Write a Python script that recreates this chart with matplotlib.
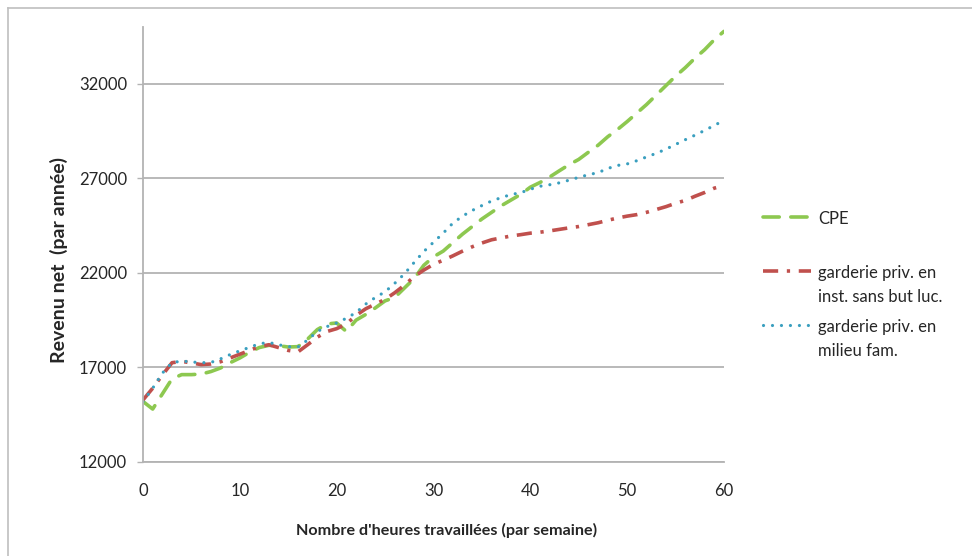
import matplotlib
matplotlib.use("Agg")
import matplotlib.pyplot as plt
from matplotlib.lines import Line2D

hours = list(range(0, 61))

cpe = [15200, 14800, 15600, 16400, 16620, 16620, 16650, 16780, 16970, 17250,
       17500, 17800, 18050, 18170, 18150, 18080, 18100, 18500, 19000, 19300,
       19350, 18900, 19500, 19800, 20150, 20520, 20700, 21200, 21700, 22400,
       22850, 23150, 23600, 24050, 24450, 24850, 25200, 25550, 25850, 26150,
       26530, 26780, 27070, 27400, 27720, 28000, 28380, 28750, 29200, 29580,
       30000, 30450, 30900, 31400, 31900, 32400, 32850, 33350, 33800, 34330,
       34770]

inst = [15280, 15900, 16600, 17250, 17320, 17240, 17150, 17180, 17300, 17500,
        17700, 17900, 18100, 18200, 18050, 17900, 17820, 18200, 18600, 18900,
        19050, 19300, 19750, 20100, 20350, 20600, 20950, 21350, 21800, 22150,
        22450, 22670, 22900, 23150, 23380, 23580, 23750, 23850, 23950, 24020,
        24100, 24150, 24220, 24300, 24380, 24450, 24550, 24650, 24780, 24900,
        25000, 25080, 25200, 25350, 25500, 25680, 25830, 26050, 26250, 26480,
        26620]

fam = [15190, 15900, 16700, 17250, 17340, 17290, 17250, 17260, 17450, 17680,
       17880, 18060, 18250, 18320, 18200, 18100, 18080, 18450, 18900, 19160,
       19350, 19600, 19900, 20350, 20700, 21000, 21450, 21950, 22550, 23130,
       23620, 24100, 24630, 25000, 25300, 25560, 25800, 25980, 26140, 26240,
       26420, 26580, 26660, 26760, 26900, 27050, 27190, 27300, 27520, 27680,
       27760, 27930, 28130, 28320, 28540, 28790, 29040, 29280, 29530, 29800,
       30060]

labels = ["CPE\n ", "garderie priv. en\ninst. sans but luc.", "garderie priv. en\nmilieu fam."]
x_ticks = [0, 10, 20, 30, 40, 50, 60]
y_ticks = [12000, 17000, 22000, 27000, 32000]

plt.rcParams['font.family'] = ['Lato', 'DejaVu Sans']
TXT = '#262626'
GRID = '#b3b3b3'
W, H = 972, 556
AX_L, AX_R, AX_T, AX_B = 143, 724, 27, 462
AW, AH = AX_R - AX_L, AX_B - AX_T

fig = plt.figure(figsize=(9.72, 5.56), dpi=100)
ax = fig.add_axes([AX_L/W, 1-AX_B/H, AW/W, AH/H])

# outer chart frame (only top and left edges visible)
fig.add_artist(Line2D([8/W, 1.0], [1-8/H, 1-8/H], transform=fig.transFigure,
                      color='#bfbfbf', lw=1.2))
fig.add_artist(Line2D([8/W, 8/W], [0.0, 1-8/H], transform=fig.transFigure,
                      color='#bfbfbf', lw=1.2))

l1, = ax.plot(hours, cpe, color='#8DC850', lw=2.6, linestyle=(0, (4.5, 3.2)),
              dash_capstyle='round', solid_capstyle='round')
l2, = ax.plot(hours, inst, color='#C0504D', lw=2.6, linestyle=(0, (4.2, 2.4, 0.9, 2.4)),
              dash_capstyle='butt')
l3, = ax.plot(hours, fam, color='#3A9FBF', lw=2.3, linestyle=(0, (0.01, 2.8)),
              dash_capstyle='round')

ax.set_xlim(0, 60)
ax.set_ylim(12000, 35000)
ax.set_xticks(x_ticks)
ax.set_yticks(y_ticks)
ax.set_xticklabels([str(v) for v in x_ticks])
ax.set_yticklabels([str(v) for v in y_ticks])

ax.yaxis.grid(True, color=GRID, lw=1.3)
ax.set_axisbelow(True)
for s in ['top', 'right']:
    ax.spines[s].set_visible(False)
for s in ['left', 'bottom']:
    ax.spines[s].set_color(GRID)
    ax.spines[s].set_linewidth(1.3)

ax.tick_params(axis='y', length=4, width=1, color=GRID, pad=7.5, labelsize=12, labelcolor=TXT)
ax.tick_params(axis='x', length=0, pad=15, labelsize=12, labelcolor=TXT)

ax.set_xlabel("Nombre d'heures travaillées (par semaine)", fontsize=11.6, fontweight='bold',
              color=TXT)
ax.xaxis.set_label_coords((447-AX_L)/AW, (AX_B-523)/AH)
ax.set_ylabel("Revenu net  (par année)", fontsize=14, fontweight='bold', color=TXT)
ax.yaxis.set_label_coords((68-AX_L)/AW, (AX_B-260)/AH)

leg = ax.legend([l1, l2, l3], labels, loc='upper left',
                bbox_to_anchor=((763-AX_L)/AW, (AX_B-211)/AH),
                frameon=False, fontsize=12, labelspacing=0.85, handlelength=2.9,
                handletextpad=0.4, borderaxespad=0, borderpad=0)
for t in leg.get_texts():
    t.set_color(TXT)
    t.set_linespacing(1.6)
try:
    for col in leg._legend_handle_box.get_children():
        for item in col.get_children():
            item.align = 'top'
except Exception:
    pass

fig.savefig("out.png", dpi=100)
